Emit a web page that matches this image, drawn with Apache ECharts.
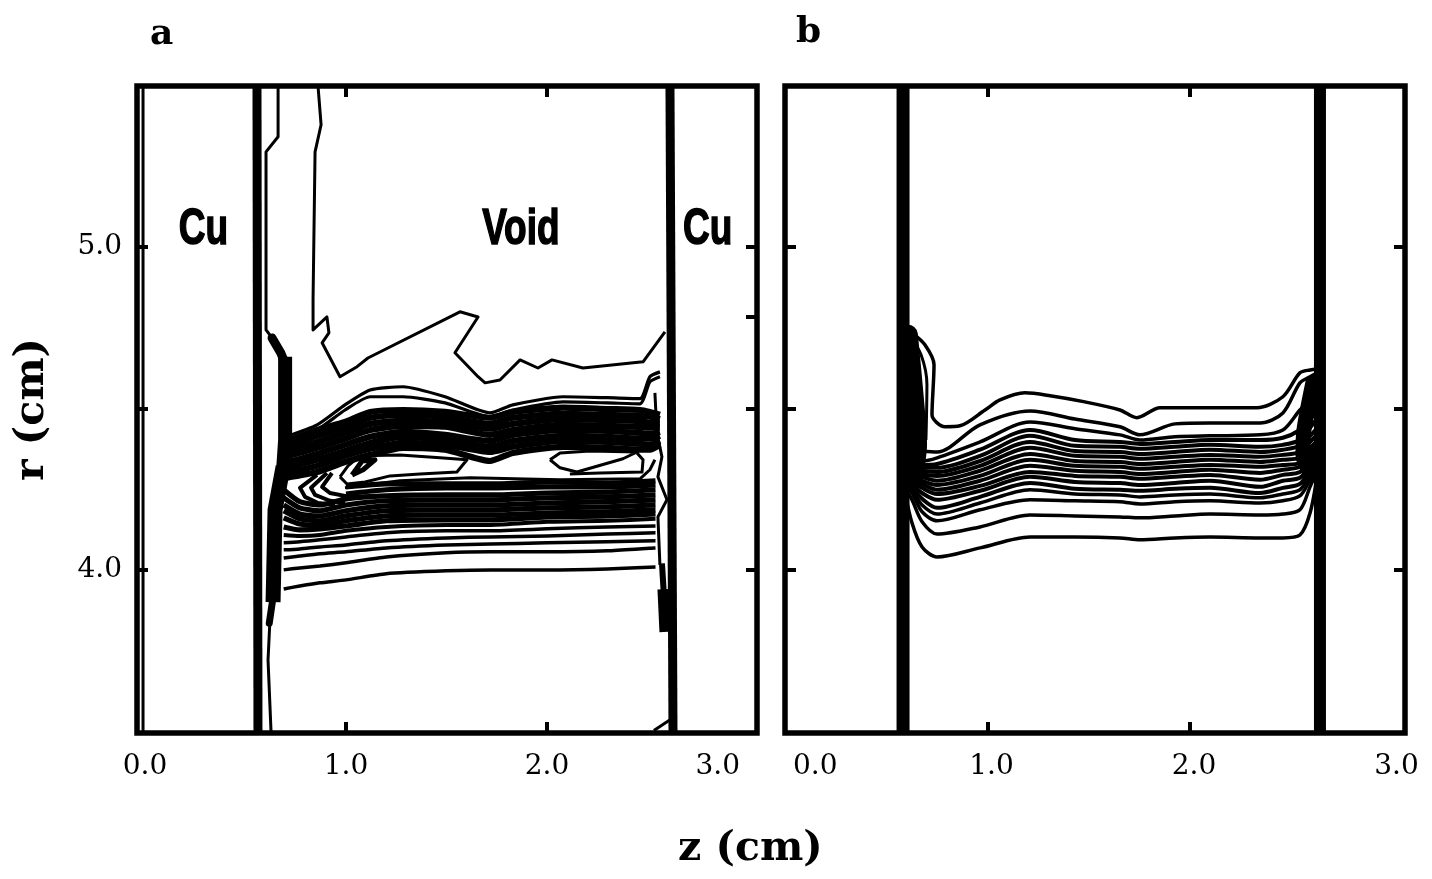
<!DOCTYPE html>
<html><head><meta charset="utf-8">
<style>html,body{margin:0;padding:0;background:#fff}#c{width:1432px;height:879px}</style>
<script src="https://cdn.jsdelivr.net/npm/echarts@6/dist/echarts.min.js"></script>
</head><body><div id="c"></div>
<script>
// ---------- tick labels ----------
const zLabelValues = [0,1,2,3];
const zTickValues = [1,2];
const rLabelValues = [4,5];
const rTickValues = [4,4.5,5];
const rTickValuesRightA = [4,4.5,4.783,5];

// ---------- panel a: columns ----------
const zALower = [.69,.77,.87,1.00,1.20,1.50,1.72,2.00,2.30,2.54];
const aL01 = [3.941,3.950,3.960,3.969,3.988,3.997,4.000,4.000,4.003,4.009];
const aL02 = [4.000,4.006,4.012,4.022,4.040,4.053,4.056,4.056,4.059,4.068];
const aL03 = [4.037,4.043,4.050,4.056,4.068,4.077,4.080,4.084,4.087,4.090];
const aL04 = [4.062,4.065,4.071,4.077,4.090,4.099,4.102,4.105,4.111,4.115];
const aL05 = [4.084,4.087,4.093,4.102,4.115,4.121,4.121,4.127,4.133,4.136];
const aL06 = [4.108,4.105,4.108,4.121,4.133,4.139,4.139,4.149,4.152,4.158];
const aL07 = [4.133,4.124,4.127,4.136,4.152,4.155,4.155,4.164,4.167,4.173];
const aL08 = [4.161,4.142,4.139,4.152,4.167,4.170,4.170,4.176,4.180,4.186];
const aL09 = [4.183,4.158,4.152,4.167,4.183,4.186,4.186,4.192,4.195,4.201];
const aL10 = [4.201,4.173,4.167,4.183,4.198,4.201,4.201,4.207,4.211,4.217];
const aL11 = [4.223,4.192,4.183,4.201,4.214,4.217,4.217,4.223,4.226,4.232];
const aL12 = [4.248,4.211,4.201,4.220,4.229,4.232,4.232,4.238,4.241,4.248];
const aL13 = [null,null,null,4.235,4.248,4.254,4.254,4.257,4.257,4.263];
const aL14 = [null,null,null,4.257,4.266,4.266,4.266,4.272,4.269,4.276];

const zAUpper = [.70,.856,.995,1.12,1.284,1.493,1.716,1.83,2.08,2.30,2.463,2.512,2.562];
const aU01 = [4.412,4.449,4.511,4.557,4.567,4.536,4.486,4.511,4.536,4.533,4.530,4.598,4.613];
const aU02 = [4.393,4.433,4.495,4.536,4.536,4.517,4.474,4.495,4.520,4.517,4.514,4.582,4.598];
const aB1 = [4.396,4.433,4.458,4.489,4.495,4.489,4.471,4.489,4.502,4.498,4.495,4.489,4.480];
const aB2 = [4.381,4.415,4.440,4.471,4.480,4.474,4.452,4.471,4.483,4.480,4.477,4.474,4.467];
const aB3 = [4.365,4.396,4.424,4.452,4.461,4.458,4.437,4.452,4.467,4.464,4.461,4.455,4.455];
const aB4 = [4.350,4.378,4.406,4.433,4.446,4.443,4.418,4.433,4.449,4.446,4.443,4.440,4.440];
const aB5 = [4.331,4.359,4.387,4.412,4.427,4.418,4.399,4.418,4.433,4.430,4.424,4.421,4.427];
const aB6 = [4.316,4.341,4.368,4.393,4.412,4.402,4.381,4.399,4.415,4.412,4.406,4.406,4.415];
const aB7 = [4.300,4.322,4.353,4.375,4.393,4.387,4.365,4.381,4.399,4.396,4.390,4.387,4.399];
const aB8 = [4.285,4.303,4.334,4.356,4.378,4.372,4.337,4.362,4.381,4.378,4.372,4.372,4.387];

// panel a: individual contours
const aOuterZ = [.861,.876,.846,.836,.836,.905,.915,.881,.970,1.055,1.109,1.567,1.657,1.542,1.657,1.692,1.766,1.866,1.955,2.025,2.179,2.478,2.587];
const aOuterR = [5.495,5.378,5.294,4.836,4.743,4.783,4.734,4.703,4.598,4.629,4.656,4.799,4.783,4.672,4.598,4.579,4.588,4.650,4.625,4.650,4.625,4.644,4.737];
const aNearWallZ = [.662,.662,.602,.602,.632];
const aNearWallR = [5.495,5.341,5.294,4.743,4.718];
const aNearWallLowZ = [.622,.612,.627];
const aNearWallLowR = [3.851,3.721,3.498];
const aIsland1Z = [.970,1.010,1.070,1.269,1.468,1.602,1.552,1.368,1.219,1.095,1.005,.970];
const aIsland1R = [4.288,4.322,4.353,4.356,4.347,4.341,4.303,4.297,4.291,4.272,4.266,4.288];
const aCore1Z = [1.030,1.080,1.144,1.085,1.030];
const aCore1R = [4.294,4.337,4.341,4.310,4.294];
const aIsland2Z = [2.015,2.065,2.214,2.448,2.378,2.149,2.065,2.015];
const aIsland2R = [4.341,4.362,4.368,4.365,4.344,4.303,4.316,4.341];
const aIsland2OuterZ = [2.448,2.478,2.473,2.264,2.114];
const aIsland2OuterR = [4.362,4.341,4.303,4.300,4.297];
const aLoopZ = [.995,1.269,1.617,2.065,2.463,2.512,2.537];
const aLoopR = [4.254,4.276,4.285,4.279,4.282,4.310,4.341];
const aChev1Z = [.856,.771,.796,.861,.945];
const aChev1R = [4.294,4.254,4.226,4.207,4.201];
const aChev2Z = [.905,.826,.846,.920,.995];
const aChev2R = [4.300,4.254,4.232,4.214,4.207];
const aChev3Z = [.930,.881,.920,1.020,1.169];
const aChev3R = [4.300,4.257,4.238,4.226,4.229];
const aLensZ = [2.537,2.547,2.572,2.552,2.597,2.552,2.562];
const aLensR = [4.548,4.424,4.350,4.288,4.217,4.164,4.015];
const aCornerZ = [2.532,2.622];
const aCornerR = [3.503,3.540];
const aBlobTopZ = [.632,.675,.697];
const aBlobTopR = [4.718,4.672,4.640];
const aBlobUpZ = [.697,.697,.687];
const aBlobUpR = [4.660,4.402,4.310];
const aBlobLowZ = [.687,.647,.637];
const aBlobLowR = [4.320,4.186,3.900];
const aBlobTipZ = [.637,.618];
const aBlobTipR = [3.915,3.835];
const aBlobRightTopZ = [2.572,2.582];
const aBlobRightTopR = [4.020,3.920];
const aBlobRightZ = [2.582,2.592];
const aBlobRightR = [3.940,3.808];
const aWallLeftZ = [.557,.562];
const aWallRightZ = [2.612,2.627];
const aEdgeZ = [-.010,-.010];
const wallR = [5.495,3.498];

// ---------- panel b ----------
const zB = [.59,.627,.677,.751,.963,1.21,1.432,1.654,1.753,1.926,2.099,2.346,2.459,2.543,2.593,2.63];
const bR01 = [4.248,4.146,4.071,4.040,4.068,4.102,4.102,4.099,4.093,4.099,4.102,4.099,4.099,4.108,4.176,4.300];
const bR02 = [4.257,4.217,4.149,4.111,4.133,4.170,4.167,4.164,4.161,4.167,4.173,4.170,4.173,4.186,4.257,4.310];
const bR03 = [4.266,4.238,4.180,4.152,4.186,4.217,4.214,4.211,4.204,4.211,4.214,4.207,4.214,4.229,4.279,4.320];
const bR04 = [4.272,4.248,4.201,4.173,4.207,4.248,4.235,4.232,4.226,4.232,4.235,4.223,4.235,4.248,4.294,4.330];
const bR05 = [4.279,4.257,4.220,4.192,4.226,4.269,4.251,4.248,4.245,4.251,4.254,4.238,4.254,4.266,4.310,4.340];
const bR06 = [4.285,4.266,4.238,4.217,4.245,4.288,4.272,4.269,4.263,4.269,4.276,4.257,4.276,4.285,4.325,4.350];
const bR07 = [4.291,4.276,4.254,4.235,4.260,4.303,4.291,4.288,4.282,4.288,4.294,4.279,4.294,4.303,4.341,4.360];
const bR08 = [4.297,4.285,4.266,4.248,4.276,4.322,4.307,4.303,4.297,4.303,4.310,4.300,4.310,4.319,4.353,4.370];
const bR09 = [4.303,4.294,4.276,4.263,4.291,4.341,4.322,4.319,4.313,4.319,4.325,4.319,4.325,4.331,4.365,4.385];
const bR10 = [4.310,4.303,4.288,4.276,4.307,4.359,4.337,4.334,4.328,4.334,4.341,4.334,4.341,4.347,4.378,4.400];
const bR11 = [4.316,4.310,4.297,4.291,4.322,4.378,4.353,4.350,4.344,4.350,4.356,4.350,4.356,4.365,4.396,4.420];
const bR12 = [4.322,4.316,4.307,4.303,4.337,4.396,4.368,4.365,4.359,4.365,4.372,4.365,4.372,4.384,4.415,4.440];
const bR13 = [4.328,4.325,4.316,4.316,4.353,4.415,4.384,4.381,4.375,4.381,4.387,4.381,4.387,4.402,4.440,4.470];
const bR14 = [4.334,4.334,4.325,4.328,4.372,4.433,4.402,4.396,4.390,4.396,4.402,4.402,4.409,4.433,4.464,4.500];
const bR15 = [4.347,4.347,4.337,4.347,4.396,4.458,4.437,4.418,4.402,4.412,4.415,4.418,4.433,4.495,4.526,4.550];
const bR16 = [4.372,4.372,4.368,4.365,4.449,4.492,4.467,4.443,4.418,4.452,4.455,4.455,4.486,4.579,4.598,4.610];
const bTopZ = [.627,.691,.736,.726,.790,.864,.988,1.062,1.185,1.309,1.481,1.654,1.738,1.852,2.099,2.331,2.459,2.543,2.593,2.63];
const bTopR = [4.734,4.697,4.635,4.480,4.443,4.446,4.495,4.526,4.548,4.539,4.520,4.495,4.471,4.502,4.502,4.502,4.536,4.610,4.619,4.622];
const bSecondZ = [.607,.672,.701,.696];
const bSecondR = [4.734,4.666,4.573,4.402];
const bBlobLeftZ = [.607,.637,.652,.627];
const bBlobLeftR = [4.728,4.526,4.387,4.279];
const bBlobRightZ = [2.607,2.563,2.558,2.602];
const bBlobRightR = [4.579,4.433,4.356,4.294];
const bWallLeftZ = [.583,.583];
const bWallRightZ = [2.642,2.642];

// ---------- annotations ----------
const annotationNames = ['Cu','Void','Cu'];
const annotationZ = [.29,1.87,2.80];
const annotationR = [5.05,5.05,5.05];

const INK = '#000';
function line(grid, zs, rs, width, smooth, cap){
  return {type:'line', xAxisIndex:grid*2, yAxisIndex:grid*2, showSymbol:false, symbol:'none',
    connectNulls:false, smooth:smooth||0, silent:true, animation:false,
    lineStyle:{color:INK,width:width,join:'round',cap:cap||'butt'},
    data: zs.map((z,i)=>[z,rs[i]])};
}
const series = [];
[aL01,aL02,aL03,aL04,aL05].forEach(r=>series.push(line(0,zALower,r,3.5,.2)));
series.push(line(0,zALower,aL06,4,.2));
[aL07,aL08,aL09,aL10,aL11,aL12,aL13,aL14].forEach(r=>series.push(line(0,zALower,r,5.2,.2)));
[aU01,aU02].forEach(r=>series.push(line(0,zAUpper,r,3.2,.2)));
[aB1,aB2,aB3,aB4,aB5,aB6,aB7,aB8].forEach(r=>series.push(line(0,zAUpper,r,6.2,.2)));
[[aOuterZ,aOuterR],[aNearWallZ,aNearWallR],[aNearWallLowZ,aNearWallLowR],[aIsland1Z,aIsland1R],
 [aIsland2Z,aIsland2R],[aIsland2OuterZ,aIsland2OuterR],[aLoopZ,aLoopR],[aLensZ,aLensR],[aCornerZ,aCornerR],[aEdgeZ,wallR]]
  .forEach(p=>series.push(line(0,p[0],p[1],3)));
[[aChev1Z,aChev1R],[aChev2Z,aChev2R],[aChev3Z,aChev3R]].forEach(p=>series.push(line(0,p[0],p[1],4)));
series.push(line(0,aCore1Z,aCore1R,5));
series.push(line(0,aBlobTopZ,aBlobTopR,9,0,'round'));
series.push(line(0,aBlobUpZ,aBlobUpR,14));
series.push(line(0,aBlobLowZ,aBlobLowR,15));
series.push(line(0,aBlobTipZ,aBlobTipR,7,0,'round'));
series.push(line(0,aBlobRightTopZ,aBlobRightTopR,6));
series.push(line(0,aBlobRightZ,aBlobRightR,13));
series.push(line(0,aWallLeftZ,wallR,9));
series.push(line(0,aWallRightZ,wallR,9));
[bR01,bR02,bR03,bR04].forEach(r=>series.push(line(1,zB,r,3.5,.3)));
[bR05,bR06,bR07,bR08,bR09,bR10,bR11,bR12,bR13,bR14].forEach(r=>series.push(line(1,zB,r,4,.3)));
[bR15,bR16].forEach(r=>series.push(line(1,zB,r,3.5,.3)));
series.push(line(1,bTopZ,bTopR,3.5,.3));
series.push(line(1,bSecondZ,bSecondR,3,.3));
series.push(line(1,bBlobLeftZ,bBlobLeftR,20,.3,'round'));
series.push(line(1,bBlobRightZ,bBlobRightR,15,.3,'round'));
series.push(line(1,bWallLeftZ,wallR,13));
series.push(line(1,bWallRightZ,wallR,12));

const FONT = 'DejaVu Serif';
const tick = {show:true,inside:true,length:11,lineStyle:{color:INK,width:4}};
function xA(grid,min,max,isTop){return {type:'value',gridIndex:grid,min,max,position:isTop?'top':'bottom',
  axisLine:{show:false,onZero:false},splitLine:{show:false},
  axisTick:Object.assign({},tick,{customValues:zTickValues}),
  axisLabel:isTop?{show:false}:{show:true,customValues:zLabelValues,margin:20,color:INK,
    fontFamily:FONT,fontSize:28,
    formatter:v=>(grid===0&&v===3)?'{p|'+v.toFixed(1)+'}':v.toFixed(1),
    rich:{p:{fontFamily:FONT,fontSize:28,color:INK,padding:[0,8,0,0]}},
    alignMinLabel:grid===1?'left':undefined,alignMaxLabel:grid===0?'right':undefined,
    padding:grid===1?[0,0,0,8]:0}};}
function yA(grid,isRight,ticks){return {type:'value',gridIndex:grid,min:3.495,max:5.498,position:isRight?'right':'left',
  axisLine:{show:false,onZero:false},splitLine:{show:false},
  axisTick:Object.assign({},tick,{customValues:ticks}),
  name:(!isRight&&grid===0)?'r (cm)':'',nameLocation:'middle',nameRotate:90,nameGap:84,
  nameTextStyle:{color:INK,fontFamily:FONT,fontWeight:'bold',fontSize:41},
  axisLabel:(isRight||grid===1)?{show:false}:{show:true,customValues:rLabelValues,margin:15,color:INK,
    fontFamily:FONT,fontSize:28,formatter:v=>v.toFixed(1)}};}

const chart = echarts.init(document.getElementById('c'),null,{renderer:'canvas'});
chart.setOption({
  animation:false,backgroundColor:'#fff',
  title:[
    {text:'a',left:145,top:12,textStyle:{color:INK,fontFamily:FONT,fontWeight:'bold',fontSize:36}},
    {text:'b',left:791,top:10,textStyle:{color:INK,fontFamily:FONT,fontWeight:'bold',fontSize:36}},
    {text:'z (cm)',left:673,top:824,textStyle:{color:INK,fontFamily:FONT,fontWeight:'bold',fontSize:41}}
  ],
  grid:[
    {left:137,top:86,width:620,height:647,show:true,borderColor:INK,borderWidth:5.5,backgroundColor:'#fff'},
    {left:785,top:86,width:620,height:647,show:true,borderColor:INK,borderWidth:5.5,backgroundColor:'#fff'}
  ],
  xAxis:[xA(0,-.04,3.045,false),xA(0,-.04,3.045,true),xA(1,0,3.062,false),xA(1,0,3.062,true)],
  yAxis:[yA(0,false,rTickValues),yA(0,true,rTickValuesRightA),yA(1,false,rTickValues),yA(1,true,rTickValues)],
  series
});
// heavy condensed panel annotations, placed through the axes' own scales
chart.setOption({graphic:annotationNames.map((n,i)=>{
  const p = chart.convertToPixel({xAxisIndex:0,yAxisIndex:0},[annotationZ[i],annotationR[i]]);
  return {type:'text',x:p[0],y:p[1],scaleX:.74,scaleY:1,silent:true,z:20,
    style:{text:n,fill:INK,stroke:INK,lineWidth:1.5,textAlign:'center',textVerticalAlign:'middle',
      font:'bold 50px "Liberation Sans", sans-serif'}};
})});
</script></body></html>
